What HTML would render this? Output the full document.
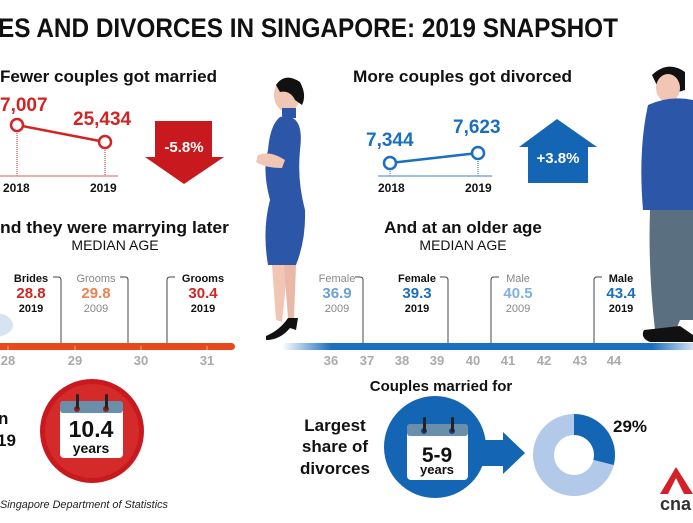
<!DOCTYPE html>
<html><head><meta charset="utf-8"><style>
html,body{margin:0;padding:0;background:#fff;width:693px;height:523px;overflow:hidden}
svg text{font-family:"Liberation Sans",sans-serif}
</style></head><body>
<svg width="693" height="523" viewBox="0 0 693 523" xmlns="http://www.w3.org/2000/svg">
<defs>
<linearGradient id="bg" x1="0" x2="1"><stop offset="0" stop-color="#1a6fbf" stop-opacity="0"/><stop offset="0.12" stop-color="#1a6fbf"/><stop offset="0.9" stop-color="#1a6fbf"/><stop offset="1" stop-color="#1a6fbf" stop-opacity="0.2"/></linearGradient>
</defs>
<text x="-2" y="37" font-size="27" font-weight="bold" fill="#111" textLength="620" lengthAdjust="spacingAndGlyphs">ES AND DIVORCES IN SINGAPORE: 2019 SNAPSHOT</text>

<text x="0" y="82" font-size="17" font-weight="bold" fill="#111" textLength="217" lengthAdjust="spacingAndGlyphs">Fewer couples got married</text>
<text x="0" y="111" font-size="19" font-weight="bold" fill="#d22424">7,007</text>
<text x="73" y="125" font-size="19" font-weight="bold" fill="#d22424">25,434</text>
<line x1="17" y1="125" x2="17" y2="176" stroke="#d22424" stroke-dasharray="1,1"/>
<line x1="105" y1="142" x2="105" y2="176" stroke="#d22424" stroke-dasharray="1,1"/>
<line x1="0" y1="176" x2="118" y2="176" stroke="#e89090" stroke-width="1.5"/>
<line x1="17" y1="125" x2="105" y2="142" stroke="#d22424" stroke-width="2.5"/>
<circle cx="17" cy="125" r="6" fill="#fff" stroke="#d22424" stroke-width="2.5"/>
<circle cx="105" cy="142" r="6" fill="#fff" stroke="#d22424" stroke-width="2.5"/>
<text x="3" y="192" font-size="12" font-weight="bold" fill="#111">2018</text>
<text x="90" y="192" font-size="12" font-weight="bold" fill="#111">2019</text>
<polygon points="155,121 212,121 212,157 224,157 184,184 145,157 155,157" fill="#c8191f"/>
<text x="184" y="152" font-size="15" font-weight="bold" fill="#fff" text-anchor="middle">-5.8%</text>
<text x="0" y="233" font-size="17" font-weight="bold" fill="#111" textLength="229" lengthAdjust="spacingAndGlyphs">nd they were marrying later</text>
<text x="115" y="250" font-size="14" fill="#111" text-anchor="middle">MEDIAN AGE</text>

<text x="353" y="82" font-size="17" font-weight="bold" fill="#111" textLength="219" lengthAdjust="spacingAndGlyphs">More couples got divorced</text>
<text x="366" y="146" font-size="19" font-weight="bold" fill="#1a6fbf">7,344</text>
<text x="453" y="133" font-size="19" font-weight="bold" fill="#1a6fbf">7,623</text>
<line x1="390" y1="163" x2="390" y2="176" stroke="#1a6fbf" stroke-dasharray="1,1"/>
<line x1="478" y1="153" x2="478" y2="176" stroke="#1a6fbf" stroke-dasharray="1,1"/>
<line x1="378" y1="176" x2="492" y2="176" stroke="#7fa8d8" stroke-width="1.5"/>
<line x1="390" y1="163" x2="478" y2="153" stroke="#1a6fbf" stroke-width="2.5"/>
<circle cx="390" cy="163" r="6" fill="#fff" stroke="#1a6fbf" stroke-width="2.5"/>
<circle cx="478" cy="153" r="6" fill="#fff" stroke="#1a6fbf" stroke-width="2.5"/>
<text x="378" y="192" font-size="12" font-weight="bold" fill="#111">2018</text>
<text x="465" y="192" font-size="12" font-weight="bold" fill="#111">2019</text>
<polygon points="557,119 597,147 588,147 588,183 528,183 528,147 519,147" fill="#1565b5"/>
<text x="558" y="163" font-size="15" font-weight="bold" fill="#fff" text-anchor="middle">+3.8%</text>
<text x="463" y="233" font-size="17" font-weight="bold" fill="#111" text-anchor="middle">And at an older age</text>
<text x="463" y="250" font-size="14" fill="#111" text-anchor="middle">MEDIAN AGE</text>

<g>
<ellipse cx="287" cy="95" rx="13" ry="17" fill="#f2c6b4"/>
<path d="M276 85 Q285 72 300 82 Q307 95 302 105 L295 100 Q290 90 280 92Z" fill="#111"/>
<rect x="282" y="108" width="14" height="10" fill="#2c56a8"/>
<path d="M280 117 Q305 112 300 150 Q297 180 305 210 Q306 240 296 265 L268 265 Q262 230 270 200 Q262 170 268 150 Q270 125 280 117Z" fill="#2c56a8"/>
<path d="M258 155 Q270 150 285 160 L282 168 Q265 168 256 162Z" fill="#f2c6b4"/>
<path d="M272 265 L276 320 L282 322 L288 265Z" fill="#f2c6b4"/>
<path d="M284 265 L288 318 L294 318 L296 265Z" fill="#eab8a6"/>
<path d="M266 336 Q280 330 288 318 L298 318 L296 330 L290 328 Q280 340 266 340Z" fill="#111"/>
</g>
<g>
<path d="M652 75 Q668 60 685 72 L685 90 Q670 95 660 92 Z" fill="#111"/>
<ellipse cx="668" cy="88" rx="12" ry="14" fill="#f2c6b4"/>
<path d="M648 105 Q670 95 693 100 L693 210 L643 210 Q638 150 648 105Z" fill="#2c56a8"/>
<path d="M650 210 L693 210 L693 320 L680 320 L676 330 L655 330 Q648 270 650 210Z" fill="#5a7080"/>
<path d="M644 330 L680 326 L693 335 L693 342 L650 342 Q640 338 644 330Z" fill="#111"/>
</g>

<rect x="-5" y="343" width="240" height="7" rx="3.5" fill="#e8481c"/>
<g stroke="#f8b090" stroke-width="1">
<line x1="8" y1="346" x2="8" y2="350"/><line x1="75" y1="346" x2="75" y2="350"/><line x1="141" y1="346" x2="141" y2="350"/><line x1="207" y1="346" x2="207" y2="350"/>
</g>
<g font-size="13" font-weight="bold" fill="#aaa" text-anchor="middle">
<text x="8" y="365">28</text><text x="75" y="365">29</text><text x="141" y="365">30</text><text x="207" y="365">31</text>
</g>
<g fill="none" stroke="#444" stroke-width="1">
<path d="M53 277 H58 Q61 277 61 280 V343"/>
<path d="M120 277 H125 Q128 277 128 280 V343"/>
<path d="M175 277 H170 Q167 277 167 280 V343"/>
</g>
<g text-anchor="middle">
<text x="31" y="282" font-size="11" font-weight="bold" fill="#111">Brides</text>
<text x="31" y="298" font-size="15" font-weight="bold" fill="#d22424">28.8</text>
<text x="31" y="312" font-size="11" font-weight="bold" fill="#111">2019</text>
<text x="96" y="282" font-size="11" fill="#888">Grooms</text>
<text x="96" y="298" font-size="15" font-weight="bold" fill="#f08050">29.8</text>
<text x="96" y="312" font-size="11" fill="#888">2009</text>
<text x="203" y="282" font-size="11" font-weight="bold" fill="#111">Grooms</text>
<text x="203" y="298" font-size="15" font-weight="bold" fill="#d22424">30.4</text>
<text x="203" y="312" font-size="11" font-weight="bold" fill="#111">2019</text>
</g>
<ellipse cx="-5" cy="325" rx="18" ry="12" fill="#d6e4f2"/>

<rect x="282" y="343" width="411" height="7" fill="url(#bg)"/>
<g font-size="13" font-weight="bold" fill="#aaa" text-anchor="middle">
<text x="331" y="365">36</text><text x="367" y="365">37</text><text x="402" y="365">38</text><text x="437" y="365">39</text><text x="473" y="365">40</text><text x="508" y="365">41</text><text x="544" y="365">42</text><text x="580" y="365">43</text><text x="614" y="365">44</text>
</g>
<g fill="none" stroke="#444" stroke-width="1">
<path d="M355 277 H360 Q363 277 363 280 V343"/>
<path d="M440 277 H445 Q448 277 448 280 V343"/>
<path d="M499 277 H494 Q491 277 491 280 V343"/>
<path d="M602 277 H597 Q594 277 594 280 V343"/>
</g>
<g text-anchor="middle">
<text x="337" y="282" font-size="11" fill="#888">Female</text>
<text x="337" y="298" font-size="15" font-weight="bold" fill="#6a9fd8">36.9</text>
<text x="337" y="312" font-size="11" fill="#888">2009</text>
<text x="417" y="282" font-size="11" font-weight="bold" fill="#111">Female</text>
<text x="417" y="298" font-size="15" font-weight="bold" fill="#1a6fbf">39.3</text>
<text x="417" y="312" font-size="11" font-weight="bold" fill="#111">2019</text>
<text x="518" y="282" font-size="11" fill="#888">Male</text>
<text x="518" y="298" font-size="15" font-weight="bold" fill="#7fb0e0">40.5</text>
<text x="518" y="312" font-size="11" fill="#888">2009</text>
<text x="621" y="282" font-size="11" font-weight="bold" fill="#111">Male</text>
<text x="621" y="298" font-size="15" font-weight="bold" fill="#1a6fbf">43.4</text>
<text x="621" y="312" font-size="11" font-weight="bold" fill="#111">2019</text>
</g>

<text x="-2" y="424" font-size="17" font-weight="bold" fill="#111">n</text>
<text x="-3" y="446" font-size="17" font-weight="bold" fill="#111">19</text>
<circle cx="92" cy="431" r="52" fill="#c8191f"/>
<circle cx="92" cy="431" r="47" fill="#d42a2a"/>
<rect x="60" y="401" width="63" height="57" rx="4" fill="#fff"/>
<rect x="60" y="401" width="63" height="12" rx="3" fill="#6a8faa"/>
<circle cx="77" cy="409" r="3" fill="#8a2020"/><circle cx="106" cy="409" r="3" fill="#8a2020"/>
<rect x="76" y="394" width="3" height="15" rx="1.5" fill="#222"/><rect x="105" y="394" width="3" height="15" rx="1.5" fill="#222"/>
<text x="91" y="437" font-size="23" font-weight="bold" fill="#111" text-anchor="middle">10.4</text>
<text x="91" y="453" font-size="14" font-weight="bold" fill="#111" text-anchor="middle">years</text>
<text x="0" y="508" font-size="11" font-style="italic" fill="#222" textLength="168" lengthAdjust="spacingAndGlyphs">Singapore Department of Statistics</text>

<text x="441" y="391" font-size="15" font-weight="bold" fill="#111" text-anchor="middle">Couples married for</text>
<g font-size="17" font-weight="bold" fill="#111" text-anchor="middle">
<text x="335" y="431">Largest</text><text x="335" y="452">share of</text><text x="335" y="474">divorces</text>
</g>
<polygon points="480,440 503,440 503,432 525,453 503,474 503,466 480,466" fill="#1565b5"/>
<circle cx="435" cy="447" r="51" fill="#1565b5"/>
<rect x="407" y="424" width="61" height="56" rx="4" fill="#fff"/>
<rect x="407" y="424" width="61" height="12" rx="3" fill="#6a8faa"/>
<circle cx="424" cy="431" r="3" fill="#1a3f7a"/><circle cx="452" cy="431" r="3" fill="#1a3f7a"/>
<rect x="423" y="417" width="3" height="15" rx="1.5" fill="#222"/><rect x="451" y="417" width="3" height="15" rx="1.5" fill="#222"/>
<text x="437" y="462" font-size="21" font-weight="bold" fill="#111" text-anchor="middle">5-9</text>
<text x="437" y="474" font-size="13" font-weight="bold" fill="#111" text-anchor="middle">years</text>
<circle cx="574" cy="455" r="30.5" fill="none" stroke="#b3c9ea" stroke-width="21"/>
<path d="M574 414 A41 41 0 0 1 613.8 465 L593.4 459.9 A20 20 0 0 0 574 435 Z" fill="#1565b5"/>
<text x="613" y="432" font-size="17" font-weight="bold" fill="#111">29%</text>
<polygon points="676,467 660,494 668,494 676,478 684,494 693,494" fill="#d42026"/>
<text x="660" y="510" font-size="18" font-weight="bold" fill="#333">cna</text>
</svg>
</body></html>
